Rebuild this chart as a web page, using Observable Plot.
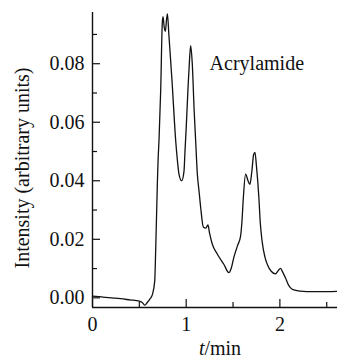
<!DOCTYPE html>
<html><head><meta charset="utf-8">
<script src="https://cdn.jsdelivr.net/npm/d3@7"></script>
<script src="https://cdn.jsdelivr.net/npm/@observablehq/plot@0.6"></script>
<style>body{margin:0;background:#fff}</style>
</head><body><div id="chart"></div>
<script>
// Chromatogram trace: retention time (min) and intensity (arbitrary units)
const time = [0.00,0.10,0.20,0.30,0.40,0.50,0.53,0.558,0.586,0.61,0.64,0.664,0.675,0.693,0.70,0.71,0.728,0.745,0.753,0.765,0.778,0.79,0.80,0.815,0.85,0.888,0.906,0.923,0.952,0.977,0.987,1.00,1.02,1.035,1.048,1.065,1.085,1.101,1.119,1.137,1.155,1.183,1.21,1.232,1.25,1.279,1.333,1.403,1.456,1.48,1.51,1.55,1.58,1.595,1.61,1.634,1.66,1.68,1.70,1.72,1.734,1.75,1.776,1.79,1.81,1.84,1.866,1.91,1.954,1.98,2.007,2.03,2.06,2.09,2.114,2.16,2.22,2.35,2.50,2.615];
const intensity = [0.0006,0.0003,0.0000,-0.0003,-0.0007,-0.0011,-0.0016,-0.0025,-0.0015,-0.0005,0.0012,0.0057,0.017,0.040,0.047,0.054,0.071,0.094,0.0961,0.0925,0.0911,0.0950,0.0970,0.0900,0.0735,0.0537,0.0470,0.0423,0.0400,0.0434,0.0500,0.0580,0.0720,0.0810,0.0862,0.0800,0.0640,0.0537,0.0423,0.0365,0.0308,0.0242,0.0238,0.0249,0.0220,0.0183,0.0149,0.0114,0.0086,0.0100,0.0140,0.0180,0.0210,0.0260,0.0342,0.0423,0.0400,0.0388,0.0430,0.0490,0.0497,0.0450,0.0342,0.0260,0.0194,0.0140,0.0114,0.0090,0.0082,0.0092,0.0101,0.0088,0.0068,0.0045,0.0034,0.0026,0.0023,0.0021,0.0021,0.0022];

const xDomain = [0, 2.615];
const yDomain = [-0.0033, 0.0975];
const xTicks = [0, 1, 2];
const xMinorTicks = [0.5, 1.5, 2.5];
const yTicks = [0.00, 0.02, 0.04, 0.06, 0.08];
const yMinorTicks = [0.01, 0.03, 0.05, 0.07, 0.09];
const xLabel = "t/min";
const yLabel = "Intensity (arbitrary units)";
const annotationText = ["Acrylamide"];
const annotationX = [1.25];
const annotationY = [0.0800];

const data = time.map((t, i) => ({t, v: intensity[i]}));
const font = "'Liberation Serif', 'Times New Roman', serif";

const svg = Plot.plot({
  width: 337,
  height: 360,
  marginLeft: 92,
  marginRight: 0,
  marginTop: 12,
  marginBottom: 53,
  style: {fontFamily: font, fontSize: "20px", color: "#111", background: "#fff"},
  x: {domain: xDomain},
  y: {domain: yDomain},
  marks: [
    Plot.axisY({ticks: yTicks, tickSize: -8, tickPadding: 16, tickFormat: d3.format(".2f"), label: null, fontSize: 20, strokeWidth: 1.2}),
    Plot.axisY({ticks: yMinorTicks, tickSize: -5, tickFormat: () => "", label: null, strokeWidth: 1.2}),
    Plot.axisX({ticks: xTicks, tickSize: -8, tickPadding: 17, tickFormat: d3.format("d"), label: null, fontSize: 20, strokeWidth: 1.2}),
    Plot.axisX({ticks: xMinorTicks, tickSize: -5, tickFormat: () => "", label: null, strokeWidth: 1.2}),
    Plot.ruleX([xDomain[0]], {stroke: "#111", strokeWidth: 1.4}),
    Plot.ruleY([yDomain[0]], {stroke: "#111", strokeWidth: 1.4}),
    Plot.line(data, {x: "t", y: "v", stroke: "#111", strokeWidth: 1.3, curve: "monotone-x"}),
    Plot.text(annotationText, {x: (d, i) => annotationX[i], y: (d, i) => annotationY[i], text: d => d, textAnchor: "start", fontSize: 20, fill: "#111"}),
    Plot.text([yLabel], {frameAnchor: "left", textAnchor: "middle", lineAnchor: "middle", rotate: -90, dx: -70, dy: 8, fontSize: 20, fill: "#111"}),
    Plot.text([xLabel], {frameAnchor: "bottom", textAnchor: "middle", lineAnchor: "middle", dx: 5, dy: 41, fontSize: 20, fill: "#111"})
  ]
});

svg.querySelectorAll("text").forEach(t => {
  if (t.textContent === xLabel) {
    t.textContent = "";
    const ts = document.createElementNS("http://www.w3.org/2000/svg", "tspan");
    ts.setAttribute("font-style", "italic");
    ts.textContent = "t";
    t.append(ts, "/min");
  }
});

document.getElementById("chart").append(svg);
</script>
</body></html>
